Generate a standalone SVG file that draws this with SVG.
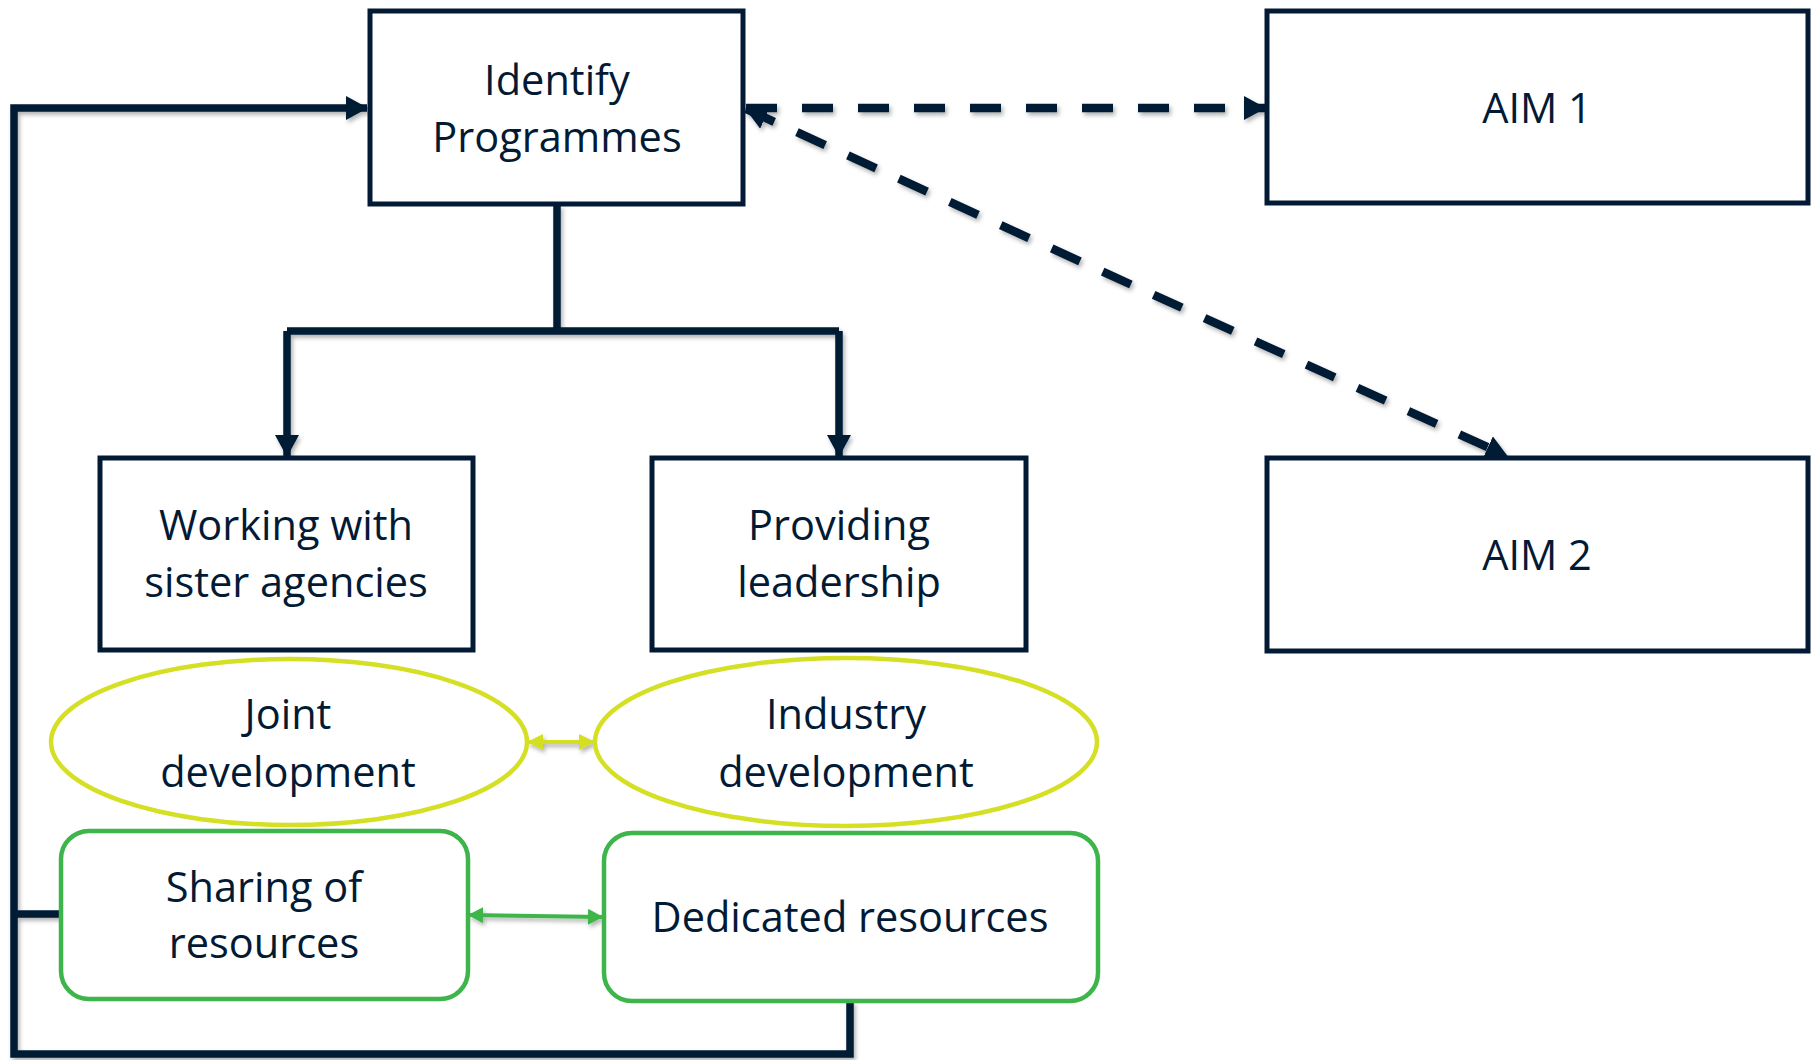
<svg xmlns="http://www.w3.org/2000/svg" width="1816" height="1060" viewBox="0 0 1816 1060">
<defs>
<style>
.box{fill:#fff;stroke:#031a35;stroke-width:5}
.ell{fill:#fff;stroke:#d5df23;stroke-width:4.5}
.rbox{fill:#fff;stroke:#3db54a;stroke-width:4.5}
.t{font-family:"Open Sans","Liberation Sans",sans-serif;font-size:41.5px;fill:#031a35;text-anchor:middle}
.conn{fill:none;stroke:#031a35;stroke-width:7.5}
.dash{fill:none;stroke:#031a35;stroke-width:8.5;stroke-dasharray:31 25}
</style>
<filter id="sh" x="-5%" y="-5%" width="110%" height="110%">
<feDropShadow dx="2" dy="3" stdDeviation="2" flood-color="#000" flood-opacity="0.3"/>
</filter>
<marker id="ah" viewBox="0 0 22 24" refX="21" refY="12" markerWidth="22" markerHeight="24" markerUnits="userSpaceOnUse" orient="auto-start-reverse">
<path d="M0,0 L22,12 L0,24 z" fill="#031a35"/>
</marker>
<marker id="ahy" viewBox="0 0 16 16" refX="15" refY="8" markerWidth="16" markerHeight="16" markerUnits="userSpaceOnUse" orient="auto-start-reverse">
<path d="M0,0 L16,8 L0,16 z" fill="#d5df23"/>
</marker>
<marker id="ahg" viewBox="0 0 15 16" refX="14" refY="8" markerWidth="15" markerHeight="16" markerUnits="userSpaceOnUse" orient="auto-start-reverse">
<path d="M0,0 L15,8 L0,16 z" fill="#3db54a"/>
</marker>
</defs>
<rect width="1816" height="1060" fill="#fff"/>

<g id="connectors" filter="url(#sh)">
<path class="conn" d="M850,1001 L850,1054 L14,1054 L14,108 L367,108" marker-end="url(#ah)"/>
<path class="conn" d="M14,914 L61,914"/>
<path class="conn" d="M557,205 L557,331"/>
<path class="conn" d="M287,331 L839,331"/>
<path class="conn" d="M287,331 L287,456" marker-end="url(#ah)"/>
<path class="conn" d="M839,331 L839,456" marker-end="url(#ah)"/>
<path class="dash" d="M746,108 L1265,108" marker-end="url(#ah)"/>
<path class="dash" d="M746,109 L1507,456" marker-start="url(#ah)" marker-end="url(#ah)"/>
<path d="M528,742 L594,742" stroke="#d5df23" stroke-width="4" fill="none" marker-start="url(#ahy)" marker-end="url(#ahy)"/>
<path d="M469,915 L602,917" stroke="#3db54a" stroke-width="4" fill="none" marker-start="url(#ahg)" marker-end="url(#ahg)"/>
</g>

<g id="identify">
<rect class="box" x="370" y="11" width="373" height="193"/>
<text class="t" x="557" y="95">Identify</text>
<text class="t" x="557" y="152">Programmes</text>
</g>
<g id="aim1">
<rect class="box" x="1267" y="11" width="541" height="192"/>
<text class="t" x="1537" y="123">AIM 1</text>
</g>
<g id="aim2">
<rect class="box" x="1267" y="458" width="541" height="193"/>
<text class="t" x="1537" y="570">AIM 2</text>
</g>
<g id="working">
<rect class="box" x="100" y="458" width="373" height="192"/>
<text class="t" x="286" y="540">Working with</text>
<text class="t" x="286" y="597">sister agencies</text>
</g>
<g id="providing">
<rect class="box" x="652" y="458" width="374" height="192"/>
<text class="t" x="839" y="540">Providing</text>
<text class="t" x="839" y="597">leadership</text>
</g>
<g id="joint">
<ellipse class="ell" cx="289" cy="742" rx="238" ry="83"/>
<text class="t" x="288" y="729">Joint</text>
<text class="t" x="288" y="787">development</text>
</g>
<g id="industry">
<ellipse class="ell" cx="846" cy="742" rx="251" ry="84"/>
<text class="t" x="846" y="729">Industry</text>
<text class="t" x="846" y="787">development</text>
</g>
<g id="sharing">
<rect class="rbox" x="61" y="831" width="407" height="168" rx="28" ry="28"/>
<text class="t" x="264" y="902">Sharing of</text>
<text class="t" x="264" y="958">resources</text>
</g>
<g id="dedicated">
<rect class="rbox" x="604" y="833" width="494" height="168" rx="28" ry="28"/>
<text class="t" x="850" y="932">Dedicated resources</text>
</g>
</svg>
